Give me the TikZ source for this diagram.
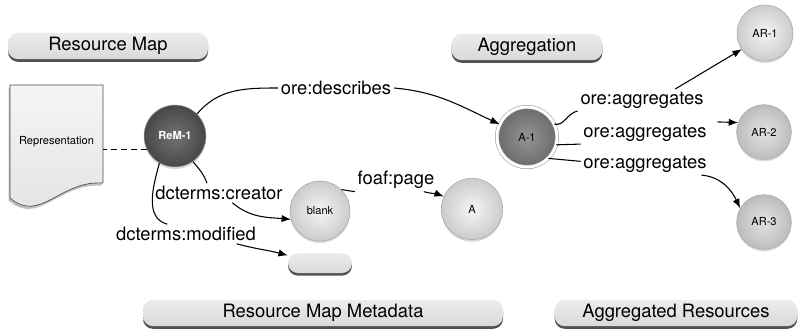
\documentclass[tikz,border=0pt]{standalone}
\usepackage{fontspec}
\setmainfont{TeX Gyre Heros}
\usetikzlibrary{calc, shadows, arrows.meta}

\begin{document}
\begin{tikzpicture}[x=0.75pt, y=0.75pt,
	font=\fontsize{13.8}{16}\selectfont,
	banner/.style={rectangle, rounded corners=7.5pt, minimum height=15pt,
		top color=gray!15, bottom color=gray!30,
		drop shadow={shadow xshift=0pt, shadow yshift=-2pt, fill=black!80, opacity=.85}},
	resnode/.style={circle, draw=gray!70, line width=0.4pt, minimum size=45pt, inner sep=0pt,
		font=\fontsize{8.3}{10}\selectfont,
		drop shadow={shadow xshift=0pt, shadow yshift=-1.5pt, opacity=.3}},
	lightres/.style={resnode, inner color=gray!8, outer color=gray!40},
	midres/.style={resnode, inner color=gray!22, outer color=gray!52},
	darkres/.style={resnode, inner color=black!55, outer color=black!72, text=white,
		font=\fontsize{8.3}{10}\selectfont\bfseries},
	prop/.style={inner sep=2pt},
	link/.style={line width=0.8pt},
	linkto/.style={link, -{Latex[length=7pt, width=5.5pt]}}]
	\useasboundingbox (0,0) rectangle (798,330);
	\node[banner, minimum width=150pt] (resmap) at (108,284) {Resource Map};
	\node[banner, minimum width=113pt] (aggregation) at (527,283) {Aggregation};
	\node[banner, minimum width=270pt] (remmeta) at (323,17) {Resource Map Metadata};
	\node[banner, minimum width=182pt] (aggres) at (676,17) {Aggregated Resources};
	\draw[gray!60!black, line width=0.5pt, top color=gray!8, bottom color=gray!22,
		drop shadow={shadow xshift=-1pt, shadow yshift=-2pt, opacity=.5}]
		(10,245) -- (103,245) -- (103,147) .. controls (60,150) and (40,106) .. (10,132) -- cycle;
	\node[minimum width=69.75pt, font=\fontsize{8.3}{10}\selectfont] (repr) at (56.5,188) {Representation};
	\node[darkres, minimum size=46.5pt] (rem) at (175,194) {ReM-1};
	\node[resnode, inner color=black!42, outer color=black!58, minimum size=45pt,
		draw=gray!80, double=white, double distance=2.2pt] (a1) at (527,193) {A-1};
	\node[lightres] (blank) at (320,119) {blank};
	\node[lightres, minimum size=46pt] (pagea) at (472,121) {A};
	\node[lightres, minimum size=42pt] (ar1) at (765,297) {AR-1};
	\node[midres, minimum size=41pt] (ar2) at (764,198) {AR-2};
	\node[midres, minimum size=41pt] (ar3) at (764,108) {AR-3};
	\node[banner, minimum width=48pt] (metabox) at (320,67) {};
	\node[prop] (describes) at (336,242) {ore:describes};
	\node[prop] (creator) at (219,137) {dcterms:creator};
	\node[prop] (modified) at (186,96) {dcterms:modified};
	\node[prop] (foafpage) at (396,150) {foaf:page};
	\node[prop] (agg1) at (642,230) {ore:aggregates};
	\node[prop] (agg2) at (645,197) {ore:aggregates};
	\node[prop] (agg3) at (645,166) {ore:aggregates};
	\draw[line width=0.6pt, dash pattern=on 4.5pt off 3pt] (rem.205) -- (rem.205 -| repr.east);
	\draw[link] (rem.45) to[out=50, in=180] (describes.west);
	\draw[linkto] (describes.east) to[out=-5, in=155] (a1.155);
	\draw[link] (rem.-55) to[out=-50, in=110] ([xshift=-9pt]creator.north);
	\draw[linkto] ([xshift=10pt]creator.south) to[out=-40, in=175] (blank.196);
	\draw[link] (rem.240) to[out=-105, in=165] ([xshift=-14pt]modified.north);
	\draw[linkto] ([xshift=38pt]modified.south) to[out=-15, in=165] ([yshift=-2pt]metabox.north west);
	\draw[link] (blank.45) -- (foafpage.south west);
	\draw[linkto] ([xshift=-10pt]foafpage.south east) to[out=-15, in=160] (pagea.156);
	\draw[link] (a1.25) to[out=-10, in=190] (agg1.south west);
	\draw[linkto] ([xshift=25pt]agg1.north) -- (ar1.215);
	\draw[link] (a1.-15) -- (agg2.south west);
	\draw[linkto] ([xshift=6pt]agg2.north east) -- (ar2.160);
	\draw[link] (a1.-45) -- ([yshift=2pt]agg3.west);
	\draw[linkto] ([xshift=-6pt]agg3.south east) to[out=-5, in=115] (ar3.150);
\end{tikzpicture}
\end{document}
